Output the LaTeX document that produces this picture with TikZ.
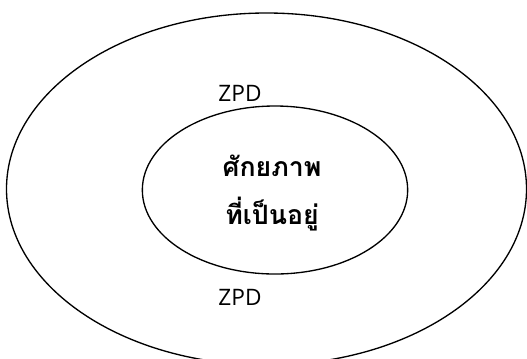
\documentclass[tikz,border=0pt]{standalone}
\usepackage{fontspec}
\setmainfont{Open Sans}
\newfontfamily\thaifont[Script=Thai]{Loma}
\usetikzlibrary{shapes.geometric}

\begin{document}
\begin{tikzpicture}[x=0.75pt,y=-0.75pt]
            \clip (0,0) rectangle (527,358);
            \node[draw, line width=1pt, ellipse, minimum width=390pt, minimum height=264pt] at (266.5,189) (outer) {};
            \node[draw, line width=1pt, ellipse, minimum width=199pt, minimum height=126pt] at (275,190) (inner) {};

            \node at (272,166) (top) {\thaifont\bfseries\fontsize{20}{24}\selectfont ศักยภาพ};
            \node at (272,214) (bottom) {\thaifont\bfseries\fontsize{20}{24}\selectfont ที่เป็นอยู่};

            \node at (240,93) (zpdA) {\fontsize{17}{20}\selectfont ZPD};
            \node at (240,297) (zpdB) {\fontsize{17}{20}\selectfont ZPD};
        \end{tikzpicture}
\end{document}
